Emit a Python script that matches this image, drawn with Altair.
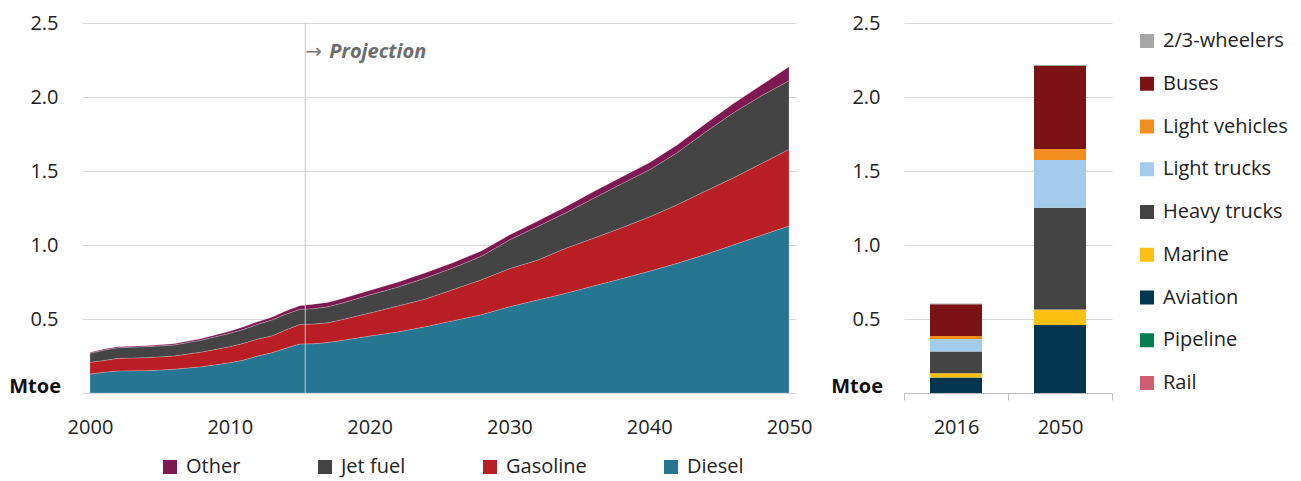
import altair as alt
import pandas as pd

FONT = "Open Sans"
FS = 20

# ---- Left panel: fuel demand (Mtoe), stacked areas ----
years = [2000, 2001, 2002, 2004, 2006, 2008, 2010, 2011, 2012, 2013, 2014, 2015, 2016,
         2017, 2018, 2020, 2022, 2024, 2026, 2028, 2030, 2032, 2034, 2036, 2038, 2040,
         2042, 2044, 2046, 2048, 2050]
diesel = [0.128, 0.140, 0.149, 0.151, 0.160, 0.178, 0.205, 0.223, 0.250, 0.272, 0.302, 0.331, 0.333,
          0.341, 0.355, 0.385, 0.412, 0.448, 0.489, 0.529, 0.583, 0.628, 0.673, 0.723, 0.772, 0.822,
          0.876, 0.935, 1.000, 1.065, 1.128]
gasoline = [0.079, 0.080, 0.085, 0.088, 0.090, 0.099, 0.108, 0.113, 0.115, 0.113, 0.124, 0.131, 0.133,
            0.133, 0.140, 0.155, 0.175, 0.187, 0.211, 0.236, 0.257, 0.269, 0.304, 0.322, 0.343, 0.367,
            0.396, 0.428, 0.453, 0.484, 0.518]
jet_fuel = [0.061, 0.070, 0.072, 0.074, 0.074, 0.081, 0.090, 0.094, 0.099, 0.108, 0.106, 0.103, 0.104,
            0.108, 0.112, 0.122, 0.128, 0.142, 0.147, 0.159, 0.194, 0.227, 0.239, 0.270, 0.297, 0.318,
            0.352, 0.398, 0.439, 0.458, 0.464]
other = [0.006, 0.007, 0.007, 0.006, 0.008, 0.011, 0.015, 0.018, 0.018, 0.018, 0.022, 0.025, 0.030,
         0.030, 0.029, 0.031, 0.033, 0.035, 0.035, 0.036, 0.034, 0.036, 0.040, 0.045, 0.045, 0.048,
         0.052, 0.057, 0.062, 0.072, 0.095]

fuel_names = ["Other", "Jet fuel", "Gasoline", "Diesel"]
fuel_colors = ["#7D1850", "#444444", "#B81E23", "#267591"]
fuel_series = {"Diesel": diesel, "Gasoline": gasoline, "Jet fuel": jet_fuel, "Other": other}
fuel_rank = {"Diesel": 0, "Gasoline": 1, "Jet fuel": 2, "Other": 3}

x_ticks = [2000, 2010, 2020, 2030, 2040, 2050]
y_ticks = [0, 0.5, 1.0, 1.5, 2.0, 2.5]
projection_year = [2015.4]
unit_label = ["Mtoe"]

# ---- Right panel: demand by mode, stacked bars ----
bar_years = ["2016", "2050"]
rail = [0.0, 0.0]
pipeline = [0.0, 0.0]
aviation = [0.105, 0.459]
marine = [0.028, 0.106]
heavy_trucks = [0.147, 0.687]
light_trucks = [0.085, 0.322]
light_vehicles = [0.020, 0.075]
buses = [0.215, 0.561]
two_three_wheelers = [0.005, 0.006]

mode_names = ["2/3-wheelers", "Buses", "Light vehicles", "Light trucks", "Heavy trucks",
              "Marine", "Aviation", "Pipeline", "Rail"]
mode_colors = ["#A6A6A6", "#7B1315", "#F28E1E", "#A3CBEA", "#444444",
               "#FBC112", "#02354E", "#067D50", "#CF5C72"]
mode_series = {"Rail": rail, "Pipeline": pipeline, "Aviation": aviation, "Marine": marine,
               "Heavy trucks": heavy_trucks, "Light trucks": light_trucks,
               "Light vehicles": light_vehicles, "Buses": buses, "2/3-wheelers": two_three_wheelers}

# ---- tables ----
area_rows = []
for name, vals in fuel_series.items():
    for yr, v in zip(years, vals):
        area_rows.append({"year": yr, "fuel": name, "value": v, "rank": fuel_rank[name]})
df_area = pd.DataFrame(area_rows)

bar_rows = []
for name, vals in mode_series.items():
    for yr, v in zip(bar_years, vals):
        bar_rows.append({"year": yr, "mode": name, "value": v,
                         "rank": len(mode_names) - 1 - mode_names.index(name)})
df_bar = pd.DataFrame(bar_rows)

df_proj = pd.DataFrame({"year": projection_year})
df_unit = pd.DataFrame({"label": unit_label})

GRID = "#D9D9D9"
LABEL = "#222222"

def y_axis():
    return alt.Axis(
        values=y_ticks, title=None, grid=True, gridColor=GRID, gridWidth=1,
        domain=False, ticks=False, tickSize=0, labelPadding=24,
        labelExpr="datum.value == 0 ? '' : format(datum.value, '.1f')",
    )

def unit_text():
    return alt.Chart(df_unit).mark_text(align="right", baseline="middle", fontSize=FS,
                                        fontWeight="bold", color="#111111", font=FONT).encode(
        text="label:N", x=alt.value(-21), y=alt.value(364)
    )

y_scale = alt.Scale(domain=[0, 2.5], nice=False)

area = alt.Chart(df_area).mark_area(opacity=1, stroke="#ffffff", strokeWidth=0.6,
                                    strokeOpacity=0.35).encode(
    x=alt.X("year:Q", scale=alt.Scale(domain=[1999.43, 2050.5], nice=False, zero=False),
            axis=alt.Axis(values=x_ticks, format="d", title=None, grid=False, ticks=False,
                          tickSize=0, domainColor=GRID, labelPadding=24)),
    y=alt.Y("value:Q", stack="zero", scale=y_scale, axis=y_axis()),
    color=alt.Color("fuel:N", scale=alt.Scale(domain=fuel_names, range=fuel_colors),
                    legend=alt.Legend(orient="none", legendX=78, legendY=434, direction="horizontal",
                                      columns=4, gridAlign="none", title=None, symbolType="square",
                                      symbolSize=196, symbolStrokeWidth=0, labelOffset=6,
                                      columnPadding=74)),
    order=alt.Order("rank:Q"),
)

rule = alt.Chart(df_proj).mark_rule(color="#C8C8C8", strokeWidth=1).encode(
    x="year:Q", y=alt.value(0), y2=alt.value(370)
)
arrow = alt.Chart(df_proj).mark_text(text="→", align="left", baseline="middle",
                                      fontSize=20, color="#7a7a7a", font="DejaVu Sans").encode(
    x="year:Q", y=alt.value(29)
)
proj_text = alt.Chart(df_proj).mark_text(text="Projection", align="left", baseline="middle",
                                          dx=24, fontSize=FS, fontWeight="bold", fontStyle="italic",
                                          color="#6d6d6d", font=FONT).encode(
    x="year:Q", y=alt.value(29)
)

left = alt.layer(area, rule, arrow, proj_text, unit_text()).properties(width=714, height=370)

bars = alt.Chart(df_bar).mark_bar(width={"band": 0.5}).encode(
    x=alt.X("year:N", scale=alt.Scale(paddingInner=0, paddingOuter=0),
            axis=alt.Axis(title=None, labelAngle=0, grid=False, ticks=True, tickBand="extent",
                          tickSize=7, tickColor="#BFBFBF", domainColor="#BFBFBF", labelPadding=17)),
    y=alt.Y("value:Q", stack="zero", scale=y_scale, axis=y_axis()),
    color=alt.Color("mode:N", scale=alt.Scale(domain=mode_names, range=mode_colors),
                    legend=alt.Legend(orient="none", legendX=233, legendY=8, direction="vertical",
                                      title=None, symbolType="square", symbolSize=196,
                                      symbolStrokeWidth=0, labelOffset=6, rowPadding=22.75)),
    order=alt.Order("rank:Q"),
)

right = alt.layer(bars, unit_text()).properties(width=208, height=370)

chart = alt.hconcat(left, right, spacing=19).resolve_scale(
    x="independent", y="independent", color="independent"
).resolve_legend(color="independent").properties(
    padding={"left": 1, "top": 5, "right": 0, "bottom": 0}
).configure_view(stroke=None).configure_axis(
    labelFont=FONT, labelFontSize=FS, labelColor=LABEL
).configure_legend(
    labelFont=FONT, labelFontSize=FS, labelColor=LABEL, labelLimit=300
).configure_text(font=FONT)

chart.save("out.html", embed_options={"renderer": "svg", "actions": False})
